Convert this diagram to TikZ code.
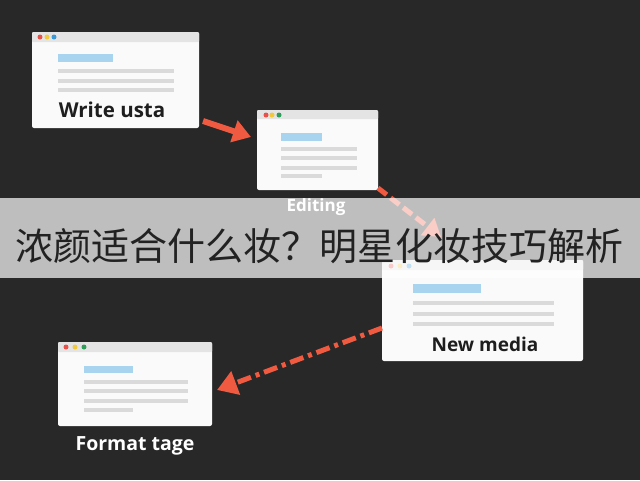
\documentclass[tikz,border=0pt]{standalone}
\usepackage{fontspec}
\setmainfont{Open Sans}
\newfontfamily\cjkfont{Noto Sans CJK SC}
\usetikzlibrary{arrows.meta}
\definecolor{c282828}{RGB}{40,40,40}
\definecolor{cf05a40}{RGB}{240,90,64}
\definecolor{ce6e6e6}{RGB}{228,228,228}
\definecolor{cfafafa}{RGB}{250,250,250}
\definecolor{cdadada}{RGB}{218,218,218}
\definecolor{ca8d4f0}{RGB}{168,212,240}
\definecolor{ce8504a}{RGB}{232,80,74}
\definecolor{cf2c83c}{RGB}{242,200,60}
\definecolor{c3a9ad8}{RGB}{58,154,216}
\definecolor{c2e9e5a}{RGB}{46,158,90}
\definecolor{c1e1e1e}{RGB}{30,30,30}
\definecolor{c222222}{RGB}{34,34,34}

\begin{document}
\begin{tikzpicture}[y=1pt, x=1pt, yscale=-1, inner sep=0pt, outer sep=0pt]
\path[fill=c282828] (0,0) rectangle (640,480);

% window write
\path[fill=cfafafa,rounded corners=2pt] (32,32) rectangle (199,128);
\path[fill=ce6e6e6,rounded corners=1pt] (32,32) rectangle (199,42);
\path[fill=ce8504a] (40,37) circle (2.5pt);
\path[fill=cf2c83c] (47,37) circle (2.5pt);
\path[fill=c3a9ad8] (54,37) circle (2.5pt);
\path[fill=ca8d4f0] (58,54) rectangle (113,62);
\path[fill=cdadada] (58,69) rectangle (174,73);
\path[fill=cdadada] (58,79) rectangle (174,83);
\path[fill=cdadada] (58,88) rectangle (174,92);
\node[text=c1e1e1e,font=\bfseries\fontsize{20.5}{24}\selectfont] (textwrite) at (112,110)
  {Write usta};

% window editing
\path[fill=cfafafa,rounded corners=2pt] (257,110) rectangle (378,190);
\path[fill=ce6e6e6,rounded corners=1pt] (257,110) rectangle (378,119);
\path[fill=ce8504a] (266,115) circle (2.5pt);
\path[fill=cf2c83c] (272,115) circle (2.5pt);
\path[fill=c2e9e5a] (279,115) circle (2.5pt);
\path[fill=ca8d4f0] (281,133) rectangle (322,141);
\path[fill=cdadada] (281,147) rectangle (357,151);
\path[fill=cdadada] (281,156) rectangle (357,160);
\path[fill=cdadada] (281,166) rectangle (357,170);
\path[fill=cdadada] (281,174) rectangle (322,178);
\node[text=white,font=\bfseries\fontsize{17}{20}\selectfont] (textedit) at (316,207)
  {Editing};

% window new media
\path[fill=cfafafa,rounded corners=2pt] (382,260) rectangle (583,361);
\path[fill=ce6e6e6,rounded corners=1pt] (382,260) rectangle (583,270);
\path[fill=ce8504a] (391,266) circle (2.5pt);
\path[fill=cf2c83c] (400,266) circle (2.5pt);
\path[fill=c3a9ad8] (409,266) circle (2.5pt);
\path[fill=ca8d4f0] (413,284) rectangle (481,293);
\path[fill=cdadada] (413,301) rectangle (554,305);
\path[fill=cdadada] (413,312) rectangle (554,316);
\path[fill=cdadada] (413,322) rectangle (554,326);
\node[text=c1e1e1e,font=\bfseries\fontsize{19}{23}\selectfont] (textnew) at (485,344)
  {New media};

% window format
\path[fill=cfafafa,rounded corners=2pt] (58,342) rectangle (212,426);
\path[fill=ce6e6e6,rounded corners=1pt] (58,342) rectangle (212,352);
\path[fill=ce8504a] (66,347) circle (2.5pt);
\path[fill=cf2c83c] (75,347) circle (2.5pt);
\path[fill=c2e9e5a] (84,347) circle (2.5pt);
\path[fill=ca8d4f0] (84,366) rectangle (133,373);
\path[fill=cdadada] (84,380) rectangle (188,384);
\path[fill=cdadada] (84,389) rectangle (188,393);
\path[fill=cdadada] (84,399) rectangle (188,403);
\path[fill=cdadada] (84,408) rectangle (133,412);
\node[text=white,font=\bfseries\fontsize{19.5}{23}\selectfont] (textformat) at (135,446)
  {Format tage};

% connectors
\coordinate (a1s) at (203,121);
\coordinate (a1e) at (251,137);
\coordinate (a2s) at (378,188);
\coordinate (a2e) at (441,237);
\coordinate (a3s) at (382,328);
\coordinate (a3e) at (217,390);
\draw[cf05a40,line width=6pt,-{Triangle[length=18pt,width=22pt]}] (a1s) -- (a1e);
\draw[cf05a40,line width=5pt,dash pattern=on 11pt off 5pt,
  -{Triangle[length=17pt,width=21pt]}] (a2s) -- (a2e);
\draw[cf05a40,line width=5pt,dash pattern=on 14pt off 5pt on 4pt off 5pt,
  -{Triangle[length=20pt,width=24pt]}] (a3s) -- (a3e);

% banner
\path[fill=white,fill opacity=0.7] (0,198) rectangle (640,278);
\node[text=c222222,font=\cjkfont\fontsize{38}{44}\selectfont] (texttitle)
  at (320,246) {浓颜适合什么妆？明星化妆技巧解析};

\end{tikzpicture}
\end{document}
